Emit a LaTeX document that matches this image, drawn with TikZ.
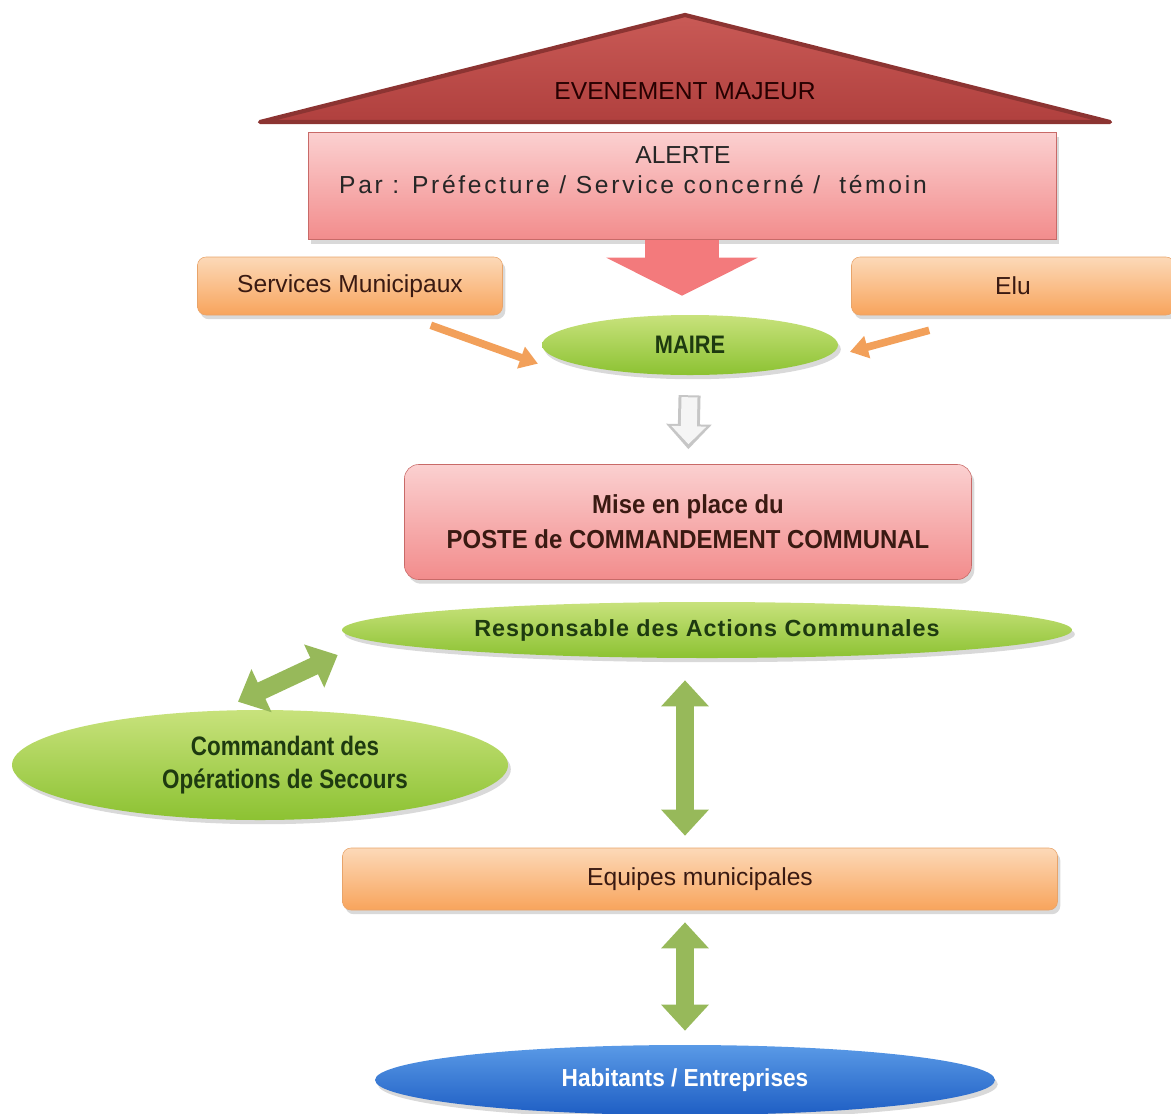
\documentclass[tikz,border=0pt]{standalone}
\usepackage{fontspec}
\setmainfont{Liberation Sans}
\newfontfamily\narrowfont{Liberation Sans}[FakeStretch=0.86]
\newfontfamily\slimfont{Liberation Sans}[FakeStretch=0.84]
\newfontfamily\halfnarrowfont{Liberation Sans}[FakeStretch=0.92]
\newfontfamily\spacedfont{Liberation Sans}[LetterSpace=4]
\newfontfamily\widefont{Liberation Sans}[LetterSpace=11]
\usepackage{xcolor}
\usetikzlibrary{shapes.geometric,arrows.meta,calc,shadows}

\definecolor{evtop}{HTML}{C95A56}
\definecolor{evbot}{HTML}{B0403E}
\definecolor{evline}{HTML}{8C3432}
\definecolor{pinktop}{HTML}{FBD0D0}
\definecolor{pinkbot}{HTML}{F28C8C}
\definecolor{pinkline}{HTML}{C86A68}
\definecolor{pinkarrow}{HTML}{F37A7C}
\definecolor{oratop}{HTML}{FCD9B8}
\definecolor{orabot}{HTML}{F8A45C}
\definecolor{oraline}{HTML}{E8A46A}
\definecolor{oraarrow}{HTML}{F2A05A}
\definecolor{gretop}{HTML}{C8E27C}
\definecolor{grebot}{HTML}{8CC232}
\definecolor{grearrow}{HTML}{97B95A}
\definecolor{blutop}{HTML}{5A9AE6}
\definecolor{blubot}{HTML}{1E5EC4}
\definecolor{txtbrown}{HTML}{3A1A12}
\definecolor{txtgreen}{HTML}{1E3A10}

\def\unitpx{0.025cm}

\begin{document}
\begin{tikzpicture}[x=0.025cm, y=-0.025cm,
    txt/.style={font=\fontsize{17.5}{21}\selectfont, text=txtbrown, align=center},
    shade/.style={drop shadow={opacity=.3, shadow xshift=2pt, shadow yshift=-3pt}},
    orabox/.style={rectangle, rounded corners=6pt, draw=oraline, top color=oratop, bottom color=orabot, shade, txt, inner sep=0pt},
    pinkbox/.style={rectangle, draw=pinkline, top color=pinktop, bottom color=pinkbot, shade, txt, inner sep=0pt},
    greenell/.style={ellipse, top color=gretop, bottom color=grebot, shade, txt, text=txtgreen, inner sep=0pt},
    greenarr/.style={draw=grearrow, line width=0.45cm, {Triangle[width=1.15cm,length=0.65cm]}-{Triangle[width=1.15cm,length=0.65cm]}},
    oraarr/.style={draw=oraarrow, line width=0.19cm, -{Triangle[width=0.55cm,length=0.45cm]}}]
  \useasboundingbox (0,0) rectangle (1171,1113);

  % roof and alert
  \fill[top color=evtop, bottom color=evbot, draw=evline, line width=3pt, line join=round]
    (260,122) -- (685,15) -- (1110,122) -- cycle;
  \node[txt, text=black!85!red] (event) at (685,91) {EVENEMENT MAJEUR};
  \node[pinkbox, minimum width={748*\unitpx}, minimum height={107*\unitpx}] (alerte) at (682,186) {};
  \node[txt, text=black!85, font=\fontsize{17.5}{21}\selectfont] (alertetxt) at (683,170)
    {ALERTE\\{\widefont Par : Préfecture / Service concerné /\ \ témoin}\hspace*{2.5cm}};

  % who warns the mayor
  \node[orabox, minimum width={305*\unitpx}, minimum height={58*\unitpx}] (svc) at (350,286) {Services Municipaux};
  \node[orabox, minimum width={323*\unitpx}, minimum height={58*\unitpx}] (elu) at (1013,286) {Elu};
  \node[greenell, font=\narrowfont\bfseries\fontsize{18}{21}\selectfont, minimum width={296*\unitpx}, minimum height={60*\unitpx}] (maire) at (690,345) {MAIRE};

  \draw[draw=pinkarrow, line width=1.85cm, -{Triangle[width=3.75cm,length=0.95cm]}, shorten >=0.475cm]
    (alerte.south) -- (alerte.south |- maire.north);
  \draw[oraarr, shorten >=0.1cm] ($(svc.south east)+(-72,10)$) -- ($(maire.west)+(0,20)$);
  \draw[oraarr, shorten >=0.3cm] ($(elu.south west)+(78,15)$) -- ($(maire.east)+(0,10)$);

  % command post
  \node[pinkbox, rounded corners=10pt, minimum width={567*\unitpx}, minimum height={115*\unitpx},
    font=\halfnarrowfont\bfseries\fontsize{18.5}{25}\selectfont] (pcc) at (688,522) {Mise en place du\\POSTE de COMMANDEMENT COMMUNAL};
  \draw[draw=gray!45, line width=0.55cm, -{Triangle[width=1.1cm,length=0.625cm]}, shorten <=0.5cm, shorten >=0.375cm]
    (maire.south) -- (pcc.north);
  \draw[draw=gray!8, line width=0.4cm, -{Triangle[width=0.85cm,length=0.45cm]}, shorten <=0.55cm, shorten >=0.5cm]
    (maire.south) -- (pcc.north);

  \node[greenell, font=\spacedfont\bfseries\fontsize{16.6}{20}\selectfont, minimum width={730*\unitpx}, minimum height={56*\unitpx}] (rac) at (707,630) {Responsable des Actions Communales};
  \node[greenell, font=\slimfont\bfseries\fontsize{19}{23}\selectfont, minimum width={496*\unitpx}, minimum height={110*\unitpx}] (cos) at (260,765)
    {\hspace*{1.25cm}Commandant des\\\hspace*{1.25cm}Opérations de Secours};
  \node[orabox, minimum width={715*\unitpx}, minimum height={62*\unitpx}] (equipes) at (700,879) {Equipes municipales};
  \node[ellipse, top color=blutop, bottom color=blubot, shade, inner sep=0pt, text=white,
    font=\halfnarrowfont\bfseries\fontsize{17.5}{20}\selectfont, minimum width={620*\unitpx}, minimum height={70*\unitpx}] (hab) at (685,1080) {Habitants / Entreprises};

  \draw[greenarr] ($(cos.north)+(-22,-8)$) -- ($(rac.west)+(-4,25)$);
  \draw[greenarr, shorten <=0.55cm, shorten >=0.3cm] (rac.south -| hab.north) -- (equipes.north -| hab.north);
  \draw[greenarr, shorten <=0.3cm, shorten >=0.35cm] (equipes.south -| hab.north) -- (hab.north);
\end{tikzpicture}
\end{document}
